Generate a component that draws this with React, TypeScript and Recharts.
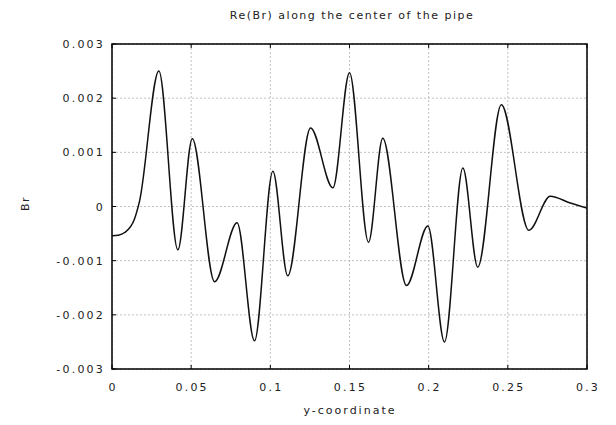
import React from "react";
import { LineChart, Line, XAxis, YAxis, CartesianGrid, ReferenceArea } from "recharts";

const yCoord = [0, 0.004, 0.008, 0.0142, 0.0174, 0.0296, 0.0416, 0.0507, 0.0648, 0.079, 0.09, 0.1016, 0.111, 0.1254, 0.1395, 0.15, 0.162, 0.171, 0.186, 0.1995, 0.21, 0.2216, 0.231, 0.2459, 0.2633, 0.2768, 0.289, 0.3];
const brValues = [-0.00054, -0.00053, -0.00048, -0.00023, 0.0001, 0.0025, -0.0008, 0.00125, -0.00139, -0.0003, -0.00248, 0.00065, -0.00128, 0.00145, 0.000345, 0.00247, -0.00066, 0.00126, -0.00146, -0.00036, -0.0025, 0.00071, -0.00112, 0.00188, -0.00044, 0.00019, 0.00007, -0.00003];

const xTicks = [0, 0.05, 0.1, 0.15, 0.2, 0.25, 0.3];
const xTickLabels = ["0", "0.05", "0.1", "0.15", "0.2", "0.25", "0.3"];
const yTicks = [-0.003, -0.002, -0.001, 0, 0.001, 0.002, 0.003];
const yTickLabels = ["-0.003", "-0.002", "-0.001", "0", "0.001", "0.002", "0.003"];

const title = "Re(Br) along the center of the pipe";
const xLabel = "y-coordinate";
const yLabel = "Br";

const data = yCoord.map((x, i) => ({ x, br: brValues[i] }));

const FONT = "'DejaVu Sans', sans-serif";
const TL = 4;

const xLabelOf = (v: number) => {
  const i = xTicks.findIndex((t) => Math.abs(t - v) < 1e-9);
  return i >= 0 ? xTickLabels[i] : String(v);
};
const yLabelOf = (v: number) => {
  const i = yTicks.findIndex((t) => Math.abs(t - v) < 1e-9);
  return i >= 0 ? yTickLabels[i] : String(v);
};

const BottomTick = (p: any) => (
  <g>
    <line x1={p.x} x2={p.x} y1={p.y} y2={p.y - TL} stroke="#000" strokeWidth={1} />
    <text x={p.x + 1} y={p.y + 22} textAnchor="middle" fontSize={11} fontFamily={FONT} fill="#222" letterSpacing={2.2}>
      {xLabelOf(p.payload.value)}
    </text>
  </g>
);
const TopTick = (p: any) => (
  <line x1={p.x} x2={p.x} y1={p.y} y2={p.y + TL} stroke="#000" strokeWidth={1} />
);
const LeftTick = (p: any) => (
  <g>
    <line x1={p.x} x2={p.x + TL} y1={p.y} y2={p.y} stroke="#000" strokeWidth={1} />
    <text x={p.x - 7} y={p.y + 4} textAnchor="end" fontSize={11} fontFamily={FONT} fill="#222" letterSpacing={2.2}>
      {yLabelOf(p.payload.value)}
    </text>
  </g>
);
const RightTick = (p: any) => (
  <line x1={p.x} x2={p.x - TL} y1={p.y} y2={p.y} stroke="#000" strokeWidth={1} />
);

export default function App() {
  return (
    <div style={{ position: "relative", width: 608, height: 417, fontFamily: FONT }}>
      <div style={{ position: "absolute", left: 0, width: 688, top: 1, textAlign: "center", fontSize: 11, letterSpacing: 1.5, color: "#222" }}>{title}</div>
      <div style={{ position: "absolute", left: 0, width: 684, top: 396, textAlign: "center", fontSize: 11, letterSpacing: 2, color: "#222" }}>{xLabel}</div>
      <div style={{ position: "absolute", left: 10, top: 189, transform: "rotate(-90deg)", fontSize: 11, letterSpacing: 1.5, color: "#222" }}>{yLabel}</div>
      <LineChart width={608} height={417} data={data} margin={{ top: 35, right: 28, bottom: 26, left: 44 }}>
        <CartesianGrid stroke="#b0b0b0" strokeDasharray="2 2" strokeWidth={0.8} />
        <XAxis
          dataKey="x"
          type="number"
          domain={[0, 0.3]}
          ticks={xTicks}
          height={30}
          tickSize={0}
          tickMargin={0}
          axisLine={false}
          tickLine={false}
          tick={BottomTick}
          interval={0}
          allowDataOverflow
        />
        <XAxis
          xAxisId="top"
          orientation="top"
          dataKey="x"
          type="number"
          domain={[0, 0.3]}
          ticks={xTicks}
          height={1}
          tickSize={0}
          tickMargin={0}
          axisLine={false}
          tickLine={false}
          tick={TopTick}
          interval={0}
        />
        <YAxis
          type="number"
          domain={[-0.003, 0.003]}
          ticks={yTicks}
          width={60}
          tickSize={0}
          tickMargin={0}
          axisLine={false}
          tickLine={false}
          tick={LeftTick}
          interval={0}
          allowDataOverflow
        />
        <YAxis
          yAxisId="right"
          orientation="right"
          type="number"
          domain={[-0.003, 0.003]}
          ticks={yTicks}
          width={1}
          tickSize={0}
          tickMargin={0}
          axisLine={false}
          tickLine={false}
          tick={RightTick}
          interval={0}
        />
        <ReferenceArea
          x1={0}
          x2={0.3}
          y1={-0.003}
          y2={0.003}
          fill="none"
          stroke="#000"
          strokeWidth={1.5}
          fillOpacity={0}
          ifOverflow="visible"
        />
        <Line
          type="monotone"
          dataKey="br"
          stroke="#111"
          strokeWidth={1.5}
          dot={false}
          isAnimationActive={false}
        />
      </LineChart>
    </div>
  );
}
